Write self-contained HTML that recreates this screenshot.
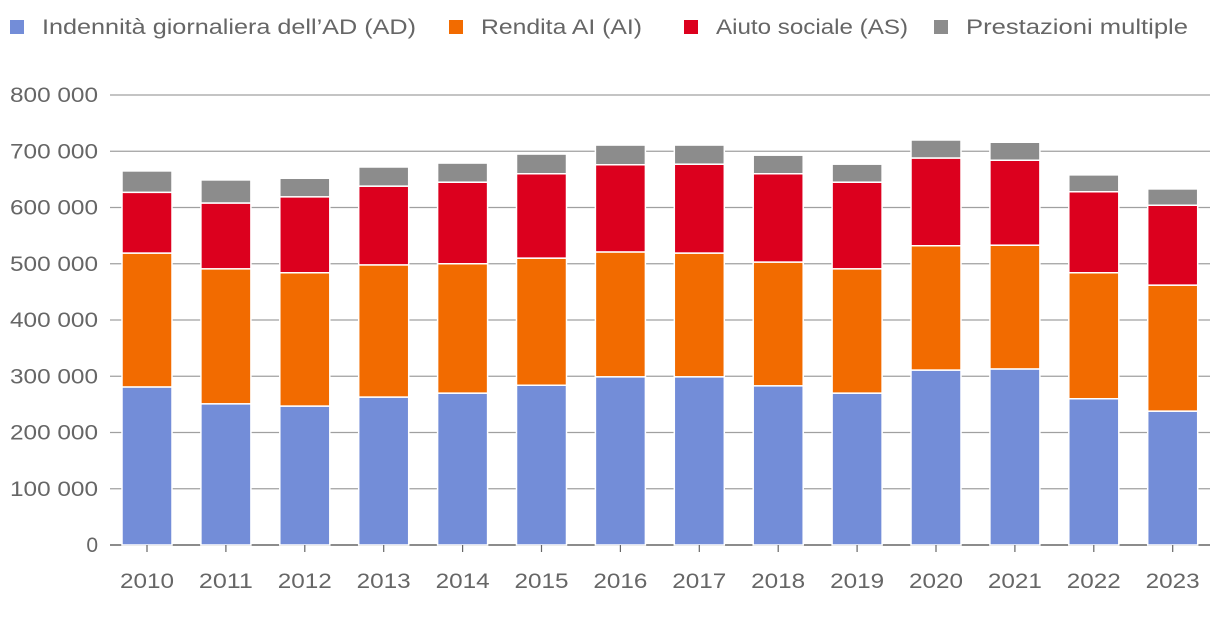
<!DOCTYPE html>
<html><head><meta charset="utf-8"><style>
body{margin:0;background:#fff;}
svg text{font-family:"Liberation Sans",sans-serif;fill:#666;}
</style></head><body>
<svg id="chart" width="1220" height="620">
<g id="legend"></g>
<g id="grid"></g>
<g id="bars"></g>
<g id="xaxis"></g>
</svg>
<script>
const categories=["2010","2011","2012","2013","2014","2015","2016","2017","2018","2019","2020","2021","2022","2023"];
const seriesNames=["Indennità giornaliera dell’AD (AD)","Rendita AI (AI)","Aiuto sociale (AS)","Prestazioni multiple"];
const adValues=[281000,251000,247000,263000,270000,284000,299000,299000,283000,270000,311000,313000,260000,238000];
const aiValues=[238000,240000,237000,235000,230000,226000,222000,220000,220000,221000,221000,220000,224000,224000];
const asValues=[108000,117000,135000,140000,145000,150000,155000,158000,157000,154000,156000,151000,144000,142000];
const multiValues=[38000,41000,33000,34000,34000,35000,35000,34000,33000,32000,32000,32000,30000,29000];
const yTicks=[0,100000,200000,300000,400000,500000,600000,700000,800000];
const yTickLabels=["0","100 000","200 000","300 000","400 000","500 000","600 000","700 000","800 000"];
const colors=["#738dd8","#f26b00","#dc001e","#8c8c8c"];
const NS="http://www.w3.org/2000/svg";
const y=v=>545-v*450/800000;
const x=i=>147+i*78.9;
function mk(tag,attrs,parent){const e=document.createElementNS(NS,tag);for(const k in attrs)e.setAttribute(k,attrs[k]);parent.appendChild(e);return e;}
const grid=document.getElementById('grid');
yTicks.forEach((t,i)=>{
 const l=mk('line',{x1:110,x2:1210,y1:y(t),y2:y(t),stroke:i==0?'#666':'#a0a0a0','stroke-width':i==0?1.5:1.2},grid);
 
 
 const attrs={x:98,y:y(t)+7,'text-anchor':'end','font-size':21};
 if(yTickLabels[i].length>3){attrs.textLength=88;attrs.lengthAdjust='spacingAndGlyphs';}
 const tx=mk('text',attrs,grid);
 tx.textContent=yTickLabels[i];
 
 
});
const bars=document.getElementById('bars');
const data=[adValues,aiValues,asValues,multiValues];
const segNames=['bar-ad','bar-ai','bar-as','bar-multiple'];
categories.forEach((c,i)=>{
 let base=0;
 data.forEach((s,k)=>{
  const top=base+s[i];
  const r=mk('rect',{x:x(i)-25,width:50,y:y(top),height:y(base)-y(top),fill:colors[k],stroke:'#fff','stroke-width':1.5},bars);
  
  
  base=top;
 });
});
const xa=document.getElementById('xaxis');
categories.forEach((c,i)=>{
 mk('line',{x1:x(i),x2:x(i),y1:545,y2:552,stroke:'#666','stroke-width':1.2},xa);
 const t=mk('text',{x:x(i),y:588,'text-anchor':'middle','font-size':21,textLength:54,lengthAdjust:'spacingAndGlyphs'},xa);
 t.textContent=c;
 
 
});
const lg=document.getElementById('legend');
const lx=[10,449,684,934];
const lw=[374,161,192,222];
seriesNames.forEach((n,k)=>{
 const r=mk('rect',{x:lx[k],y:20,width:14,height:14,fill:colors[k]},lg);
 
 
 const t=mk('text',{x:lx[k]+32,y:34,'font-size':21,textLength:lw[k],lengthAdjust:'spacingAndGlyphs'},lg);
 t.textContent=n;
 
 
});
</script>
</body></html>
